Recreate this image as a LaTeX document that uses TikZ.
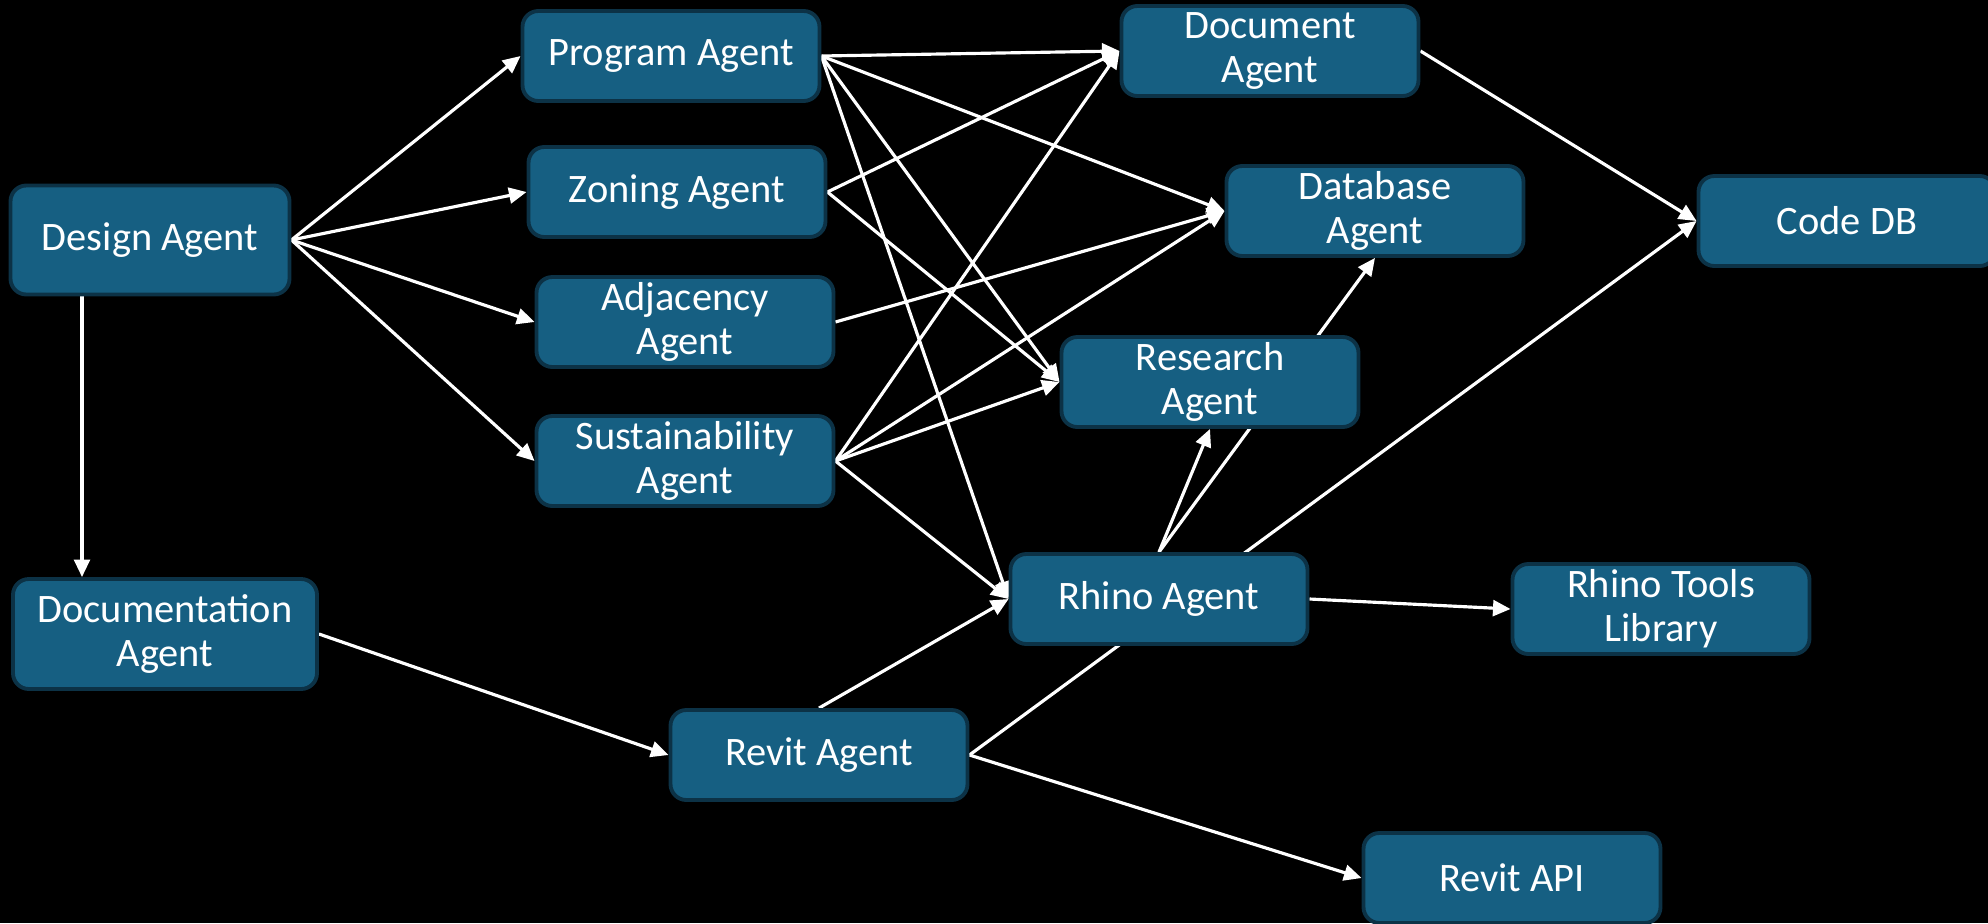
\documentclass[tikz,border=0pt]{standalone}
\usepackage{fontspec}
\setmainfont{Carlito}
\usetikzlibrary{arrows.meta}

\definecolor{agentfill}{RGB}{22,95,130}
\definecolor{agentline}{RGB}{12,50,70}

\pgfdeclarelayer{bg}
\pgfdeclarelayer{links}
\pgfsetlayers{bg,links,main}

\tikzset{
  agent/.style={rectangle,rounded corners=4.5pt,draw=agentline,line width=1.1pt,
    fill=agentfill,text=white,minimum width=2.97cm,minimum height=0.9cm,
    inner ysep=1pt,align=center,font=\fontsize{11.5}{12.6}\selectfont},
  link/.style={white,line width=0.9pt,-{Triangle[length=5pt,width=4.5pt]}}
}

\begin{document}
\begin{tikzpicture}
    \useasboundingbox (0,0) rectangle (19.88,-9.23);
    \begin{pgfonlayer}{bg}
        \fill[black] (0,0) rectangle (19.88,-9.23);
    \end{pgfonlayer}

    \node[agent,minimum width=2.79cm,minimum height=1.09cm] (dsn) at (1.50,-2.40) {Design Agent};
    \node[agent,minimum width=3.04cm,minimum height=1.10cm] (dca) at (1.65,-6.34) {Documentation\\Agent};

    \node[agent] (prg) at (6.71,-0.56) {Program Agent};
    \node[agent] (zon) at (6.77,-1.92) {Zoning Agent};
    \node[agent] (adj) at (6.85,-3.22) {Adjacency\\Agent};
    \node[agent] (sus) at (6.85,-4.61) {Sustainability\\Agent};
    \node[agent] (rvt) at (8.19,-7.55) {Revit Agent};

    \node[agent] (dcm) at (12.70,-0.51) {Document\\Agent};
    \node[agent] (dbs) at (13.75,-2.11) {Database\\Agent};
    \node[agent] (res) at (12.10,-3.82) {Research\\Agent};
    \node[agent] (rhi) at (11.59,-5.99) {Rhino Agent};

    \node[agent] (cdb) at (18.47,-2.21) {Code DB};
    \node[agent] (rtl) at (16.61,-6.09) {Rhino Tools\\Library};
    \node[agent] (api) at (15.12,-8.78) {Revit API};

    \begin{pgfonlayer}{links}
        \draw[link] (dsn.east)--(prg.west);
        \draw[link] (dsn.east)--(zon.west);
        \draw[link] (dsn.east)--(adj.west);
        \draw[link] (dsn.east)--(sus.west);
        \draw[link] ([xshift=-0.68cm]dsn.south)--([xshift=-0.68cm]dsn.south |- dca.north);

        \draw[link] (prg.east)--(dcm.west);
        \draw[link] (prg.east)--(dbs.west);
        \draw[link] (prg.east)--(res.west);
        \draw[link] (prg.east)--(rhi.west);
        \draw[link] (zon.east)--(dcm.west);
        \draw[link] (zon.east)--(res.west);
        \draw[link] (adj.east)--(dbs.west);
        \draw[link] (sus.east)--(dcm.west);
        \draw[link] (sus.east)--(dbs.west);
        \draw[link] (sus.east)--(res.west);
        \draw[link] (sus.east)--(rhi.west);

        \draw[link] (dcm.east)--(cdb.west);
        \draw[link] (rhi.north)--(res.south);
        \draw[link] (rhi.north)--(dbs.south);
        \draw[link] (rhi.east)--(rtl.west);

        \draw[link] (dca.east)--(rvt.west);
        \draw[link] (rvt.north)--(rhi.west);
        \draw[link] (rvt.east)--(api.west);
        \draw[link] (rvt.east)--(cdb.west);
    \end{pgfonlayer}
\end{tikzpicture}
\end{document}
